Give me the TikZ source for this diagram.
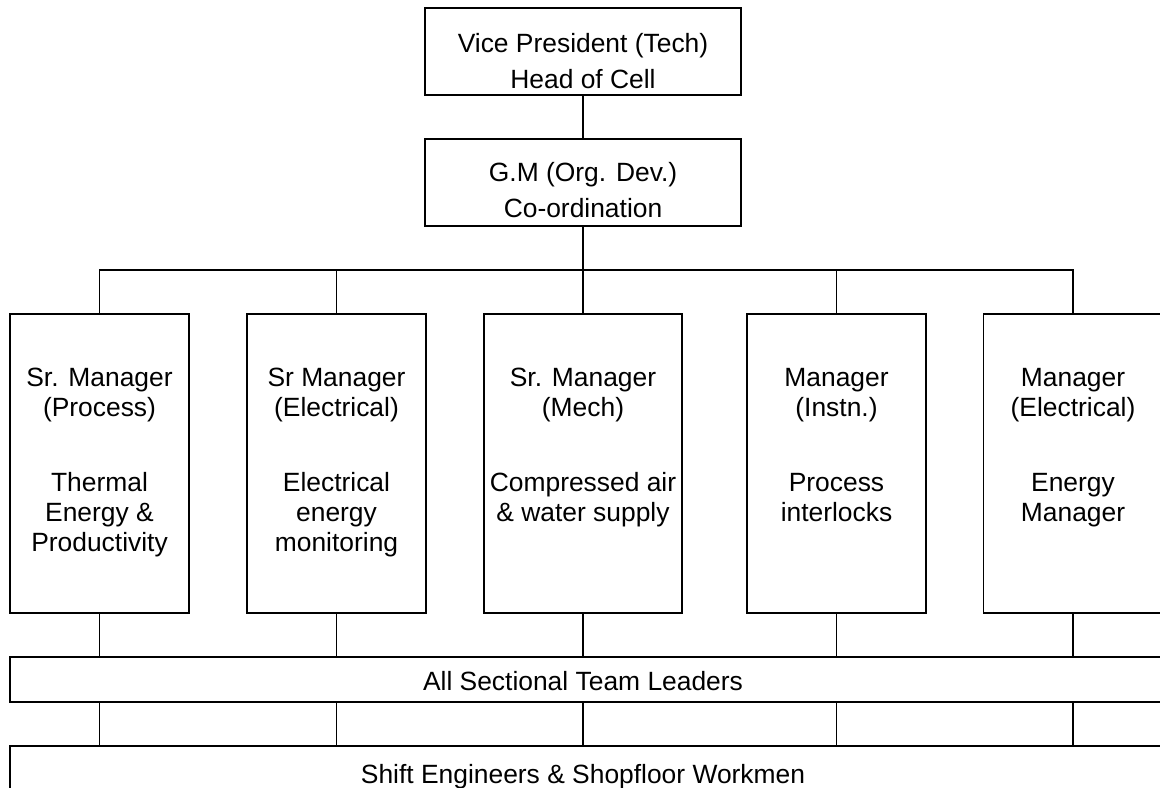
\documentclass[tikz,border=0pt]{standalone}
\usepackage{fontspec}
\setmainfont{Liberation Sans}
\begin{document}
\begin{tikzpicture}[x=0.5pt,y=-0.5pt,
  box/.style={draw,line width=0.9pt,inner sep=0pt,minimum height=#1},
  lbl/.style={inner sep=0pt,align=center,font=\fontsize{13.2}{15}\selectfont},
  toplbl/.style={inner sep=0pt,align=center,font=\fontsize{13.2}{18}\selectfont},
  conn/.style={line width=0.9pt}]
\useasboundingbox (0,0) rectangle (1160,787);
% boxes
\node[box=43.5pt, minimum width=158pt] (vp) at (583,51.5) {};
\node[box=43.5pt, minimum width=158pt] (gm) at (583,182.5) {};
\node[box=149.5pt, minimum width=89.5pt] (m1) at (99.5,463.5) {};
\node[box=149.5pt, minimum width=89.5pt] (m2) at (336.5,463.5) {};
\node[box=149.5pt, minimum width=99pt] (m3) at (583,463.5) {};
\node[box=149.5pt, minimum width=89.5pt] (m4) at (836.5,463.5) {};
\node[box=149.5pt, minimum width=89.5pt] (m5) at (1073,463.5) {};
\node[box=22.5pt, minimum width=600pt] (tl) at (610,679.5) {};
\node[box=50pt, minimum width=600pt] (se) at (610,796) {};
% texts
\node[toplbl] (vpt) at (583,61) {Vice President (Tech)\\Head of Cell};
\node[toplbl] (gmt) at (583,190) {G.M (Org. Dev.)\\Co-ordination};
\node[lbl,anchor=north] (t1) at (99.5,368) {Sr. Manager\\(Process)\\[22.5pt]Thermal\\Energy \&\\Productivity};
\node[lbl,anchor=north] (t2) at (336.5,368) {Sr Manager\\(Electrical)\\[22.5pt]Electrical\\energy\\monitoring};
\node[lbl,anchor=north] (t3) at (583,368) {Sr. Manager\\(Mech)\\[22.5pt]Compressed air\\\& water supply};
\node[lbl,anchor=north] (t4) at (836.5,368) {Manager\\(Instn.)\\[22.5pt]Process\\interlocks};
\node[lbl,anchor=north] (t5) at (1073,368) {Manager\\(Electrical)\\[22.5pt]Energy\\Manager};
\node[lbl] (tlt) at (583,681) {All Sectional Team Leaders};
\node[lbl] (set) at (583,777) {Shift Engineers \& Shopfloor Workmen};
% connectors
\coordinate (bus) at (583,270);
\draw[conn] (vp.south) -- (gm.north);
\draw[conn] (gm.south) -- (bus);
\draw[conn] (m1.north) -- (m1.north |- bus) -- (m5.north |- bus) -- (m5.north);
\foreach \i in {2,3,4} \draw[conn] (m\i.north) -- (m\i.north |- bus);
\foreach \i in {1,2,3,4,5} {
  \draw[conn] (m\i.south) -- (m\i.south |- tl.north);
  \draw[conn] (m\i.south |- tl.south) -- (m\i.south |- se.north);
}
\end{tikzpicture}
\end{document}
